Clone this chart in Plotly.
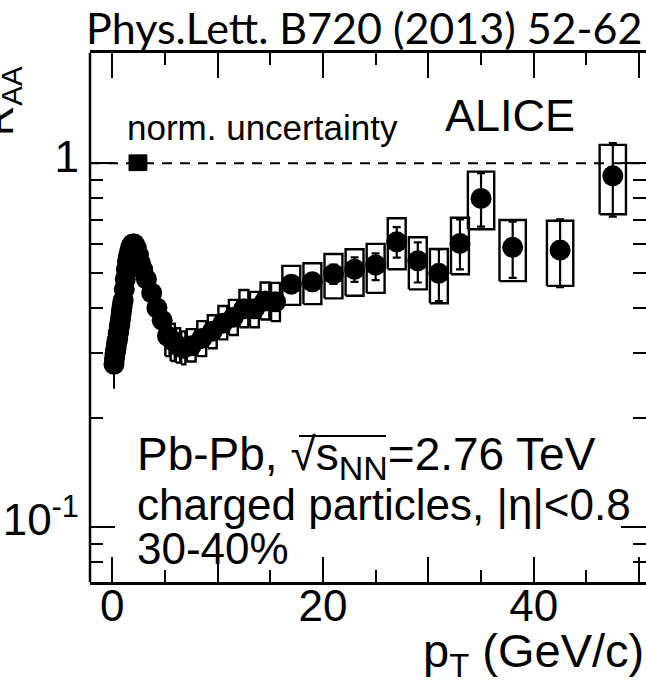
import plotly.graph_objects as go

# ---------------- data ----------------
# dense low-pT points (boxes hidden behind markers)
pt_low = [0.175, 0.225, 0.275, 0.325, 0.375, 0.425, 0.475, 0.525, 0.575, 0.625,
          0.675, 0.725, 0.775, 0.825, 0.875, 0.925, 0.975, 1.05, 1.15, 1.25,
          1.35, 1.45, 1.55, 1.65, 1.75, 1.85, 1.95, 2.1, 2.3, 2.5,
          2.7, 2.9, 3.25, 3.75, 4.25, 4.75]
raa_low = [0.28, 0.29, 0.30, 0.305, 0.31, 0.32, 0.325, 0.33, 0.34, 0.345,
           0.355, 0.36, 0.37, 0.38, 0.39, 0.40, 0.41, 0.42, 0.45, 0.48,
           0.51, 0.535, 0.555, 0.57, 0.585, 0.595, 0.60, 0.60, 0.585, 0.56,
           0.53, 0.51, 0.48, 0.44, 0.40, 0.37]
stat_low = [0.04] + [0.0] * 35

# points with visible systematic boxes
pt_hi = [5.25, 5.75, 6.25, 6.75, 7.5, 8.5, 9.5, 10.5, 11.5, 12.5, 13.5, 14.5, 15.5,
         17, 19, 21, 23, 25, 27, 29, 31, 33, 35, 38, 42.5, 47.5]
raa_hi = [0.335, 0.325, 0.315, 0.31, 0.315, 0.33, 0.345, 0.363, 0.377, 0.398, 0.398, 0.418, 0.416,
          0.465, 0.472, 0.496, 0.511, 0.525, 0.608, 0.539, 0.498, 0.602, 0.80, 0.587, 0.577, 0.923]
stat_plus = [0, 0, 0, 0, 0, 0, 0, 0, 0, 0, 0, 0, 0,
             0.02, 0.025, 0.03, 0.04, 0.040, 0.059, 0.067, 0.082, 0.099, 0.139, 0.104, 0.124, 0.212]
stat_minus = [0, 0, 0, 0, 0, 0, 0, 0, 0, 0, 0, 0, 0,
              0.02, 0.025, 0.03, 0.039, 0.048, 0.058, 0.069, 0.080, 0.091, 0.131, 0.103, 0.121, 0.210]
sys_lo = [0.295, 0.286, 0.283, 0.280, 0.285, 0.295, 0.310, 0.328, 0.337, 0.354, 0.354, 0.372, 0.368,
          0.408, 0.410, 0.425, 0.432, 0.440, 0.511, 0.450, 0.412, 0.495, 0.658, 0.474, 0.460, 0.724]
sys_hi = [0.375, 0.362, 0.352, 0.345, 0.350, 0.368, 0.382, 0.405, 0.421, 0.448, 0.443, 0.470, 0.469,
          0.522, 0.531, 0.563, 0.580, 0.600, 0.706, 0.626, 0.581, 0.708, 0.948, 0.698, 0.695, 1.123]
bin_half = [0.2, 0.2, 0.2, 0.2, 0.42, 0.42, 0.42, 0.42, 0.42, 0.42, 0.42, 0.42, 0.42,
            0.85, 0.85, 0.85, 0.85, 0.85, 0.85, 0.85, 0.85, 0.85, 1.25, 1.25, 1.25, 1.25]

# normalisation uncertainty box
norm_pt = [1.6, 3.3]
norm_range = [0.954, 1.054]

x_ticks_major = [0, 10, 20, 30, 40, 50]
x_ticks_label = ["0", "", "20", "", "40", ""]
x_ticks_minor = [5, 15, 25, 35, 45]
y_ticks_major = [0.1, 1]
y_ticks_label = ["10<sup>-1</sup>", "1"]
y_ticks_minor = [0.08, 0.09, 0.2, 0.3, 0.4, 0.5, 0.6, 0.7, 0.8, 0.9, 2]

# ---------------- figure ----------------
W, H = 646, 696
ML, MR, MT, MB = 90, 0, 53, 114
PW, PH = W - ML - MR, H - MT - MB


def px(xp):
    return (xp - ML) / PW


def py(yp):
    return (H - MB - yp) / PH


fig = go.Figure()

# systematic boxes
bx, by = [], []
for x, lo, hi, hw in zip(pt_hi, sys_lo, sys_hi, bin_half):
    bx += [x - hw, x + hw, x + hw, x - hw, x - hw, None]
    by += [lo, lo, hi, hi, lo, None]
fig.add_trace(go.Scatter(x=bx, y=by, mode="lines", line=dict(color="black", width=2.4),
                         hoverinfo="skip", showlegend=False))

# normalisation box
fig.add_trace(go.Scatter(x=[norm_pt[0], norm_pt[1], norm_pt[1], norm_pt[0], norm_pt[0]],
                         y=[norm_range[0], norm_range[0], norm_range[1], norm_range[1], norm_range[0]],
                         mode="lines", fill="toself", fillcolor="black",
                         line=dict(color="black", width=1), showlegend=False))

# data points
fig.add_trace(go.Scatter(x=pt_low, y=raa_low, mode="markers",
                         marker=dict(color="black", size=21),
                         error_y=dict(type="data", array=stat_low, color="black", thickness=2, width=0),
                         showlegend=False))
fig.add_trace(go.Scatter(x=pt_hi, y=raa_hi, mode="markers",
                         marker=dict(color="black", size=21),
                         error_y=dict(type="data", array=stat_plus, arrayminus=stat_minus,
                                      color="black", thickness=2.2, width=4),
                         showlegend=False))

# dashed line at 1
fig.add_shape(type="line", xref="paper", x0=0, x1=1, yref="y", y0=1, y1=1,
              line=dict(color="black", width=2, dash="10px,8px"), layer="below")
# left frame line
fig.add_shape(type="line", xref="paper", x0=0, x1=0, yref="paper", y0=0, y1=1,
              line=dict(color="black", width=2.5))
# overbar of the square root
fig.add_shape(type="line", xref="paper", x0=px(299), x1=px(386), yref="paper", y0=py(436), y1=py(436),
              line=dict(color="black", width=2))

AR = "Liberation Sans"
fig.update_layout(
    width=W, height=H,
    margin=dict(l=ML, r=MR, t=MT, b=MB, pad=0),
    paper_bgcolor="white", plot_bgcolor="white",
    font=dict(family=AR, color="black"),
    xaxis=dict(range=[-2.1, 50.65], showgrid=False, zeroline=False,
               showline=True, linecolor="black", linewidth=2.5, mirror="ticks",
               ticks="inside", ticklen=25, tickwidth=2, tickcolor="black",
               tickvals=x_ticks_major, ticktext=x_ticks_label,
               tickfont=dict(size=44, family=AR), ticklabelstandoff=-17),
    yaxis=dict(type="log", range=[-1.151, 0.3028], showgrid=False, zeroline=False,
               showline=False, mirror="ticks",
               ticks="inside", ticklen=25, tickwidth=2, tickcolor="black",
               tickvals=y_ticks_major, ticktext=y_ticks_label,
               tickfont=dict(size=44, family=AR), ticklabelstandoff=10, ticklabelshift=-7,
               minor=dict(tickvals=y_ticks_minor, ticks="inside", ticklen=13,
                          tickwidth=2, tickcolor="black")),
)
fig.update_xaxes(minor=dict(tickvals=x_ticks_minor, ticks="inside", ticklen=12,
                            tickwidth=2, tickcolor="black"))

ann = [
    dict(text="Phys.Lett. B720 (2013) 52-62", x=px(364), y=py(28), font=dict(family="Lato", size=43)),
    dict(text="norm. uncertainty", x=px(125), y=py(127), xanchor="left", font=dict(size=35)),
    dict(text="ALICE", x=px(510), y=py(115), font=dict(size=45)),
    dict(text="Pb-Pb, √s<sub><span style='font-size:34px'>NN</span></sub>=2.76 TeV",
         x=px(135), y=py(457), xanchor="left", font=dict(size=46)),
    dict(text="charged particles, |η|<0.8", x=px(135), y=py(505), xanchor="left", font=dict(size=44)),
    dict(text="30-40%", x=px(135), y=py(548), xanchor="left", font=dict(size=44)),
    dict(text="p<sub>T</sub> (GeV/c)", x=px(646), y=py(654), xanchor="right", font=dict(size=47)),
    dict(text="R<sub>AA</sub>", x=px(2), y=py(101), textangle=-90, font=dict(size=42)),
]
for a in ann:
    a.setdefault("xanchor", "center")
    a.update(xref="paper", yref="paper", showarrow=False, yanchor="middle")
    fig.add_annotation(**a)

fig.write_html("out.html")
